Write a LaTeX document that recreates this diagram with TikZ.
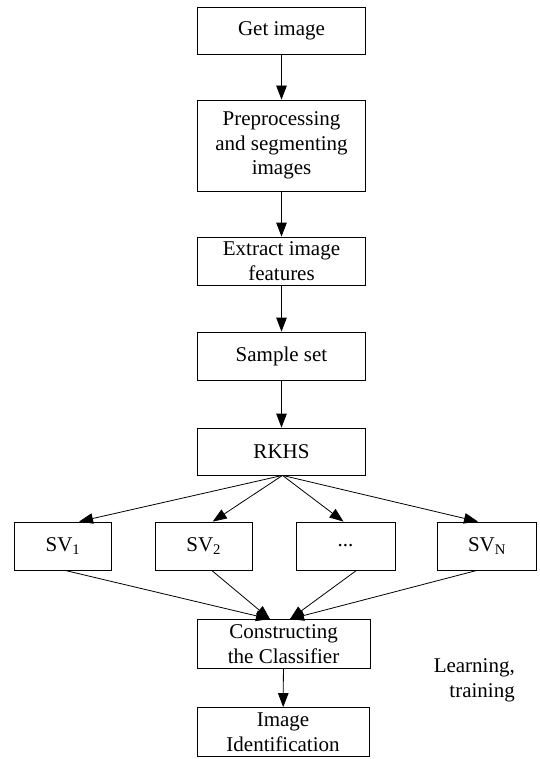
\documentclass[tikz,border=0pt]{standalone}
\usepackage{fontspec}
\setmainfont{Liberation Serif}
\usetikzlibrary{arrows.meta}
\begin{document}
\begin{tikzpicture}[x=1pt,y=-1pt,
  box/.style={draw, line width=0.8pt, rectangle, align=center, inner sep=0pt,
    font=\fontsize{21}{24.7}\selectfont},
  arr/.style={line width=0.8pt, -{Triangle[length=14pt,width=10.5pt]}}]
\useasboundingbox (0,0) rectangle (539,759);
\node[box, minimum width=168.5pt, minimum height=47pt] (get) at (281.5,30.5) {Get image};
\node[box, minimum width=168.5pt, minimum height=91pt] (pre) at (281.5,145.5) {Preprocessing\\and segmenting\\images};
\node[box, minimum width=168.5pt, minimum height=48pt] (ext) at (281.5,261) {Extract image\\features};
\node[box, minimum width=168.5pt, minimum height=48pt] (samp) at (281.5,356) {Sample set};
\node[box, minimum width=168.5pt, minimum height=47pt] (rkhs) at (281.5,451.5) {RKHS};
\node[box, minimum width=97.7pt, minimum height=48pt] (sv1) at (63,546) {SV\textsubscript{1}};
\node[box, minimum width=97.3pt, minimum height=48pt] (sv2) at (203.7,546) {SV\textsubscript{2}};
\node[box, minimum width=99pt, minimum height=48pt] (svd) at (345.5,546) {...};
\node[box, minimum width=98.3pt, minimum height=48pt] (svn) at (487,546) {SV\textsubscript{N}};
\node[box, minimum width=172.7pt, minimum height=49pt] (cons) at (283.6,644) {Constructing\\the Classifier};
\node[box, minimum width=172pt, minimum height=49pt] (iden) at (283,732) {Image\\Identification};
\node[align=right, anchor=east, inner sep=0pt, font=\fontsize{21}{24.7}\selectfont] (learn) at (515,680) {Learning,\\training};
\draw[arr] (get) -- (pre);
\draw[arr] (pre) -- (ext);
\draw[arr] (ext) -- (samp);
\draw[arr] (samp) -- (rkhs);
\draw[arr] ([xshift=1pt]rkhs.south) -- ([xshift=16pt]sv1.north);
\draw[arr] ([xshift=1pt]rkhs.south) -- ([xshift=9pt]sv2.north);
\draw[arr] ([xshift=1pt]rkhs.south) -- ([xshift=-2pt]svd.north);
\draw[arr] ([xshift=1pt]rkhs.south) -- ([xshift=-9pt]svn.north);
\draw[arr] ([xshift=2pt]sv1.south) -- ([xshift=-13.6pt]cons.north);
\draw[arr] ([xshift=8pt]sv2.south) -- ([xshift=-13.6pt]cons.north);
\draw[arr] ([xshift=11pt]svd.south) -- ([xshift=6.4pt]cons.north);
\draw[arr] ([xshift=-10pt]svn.south) -- ([xshift=6.4pt]cons.north);
\draw[arr] (cons) -- (iden);
\end{tikzpicture}
\end{document}
